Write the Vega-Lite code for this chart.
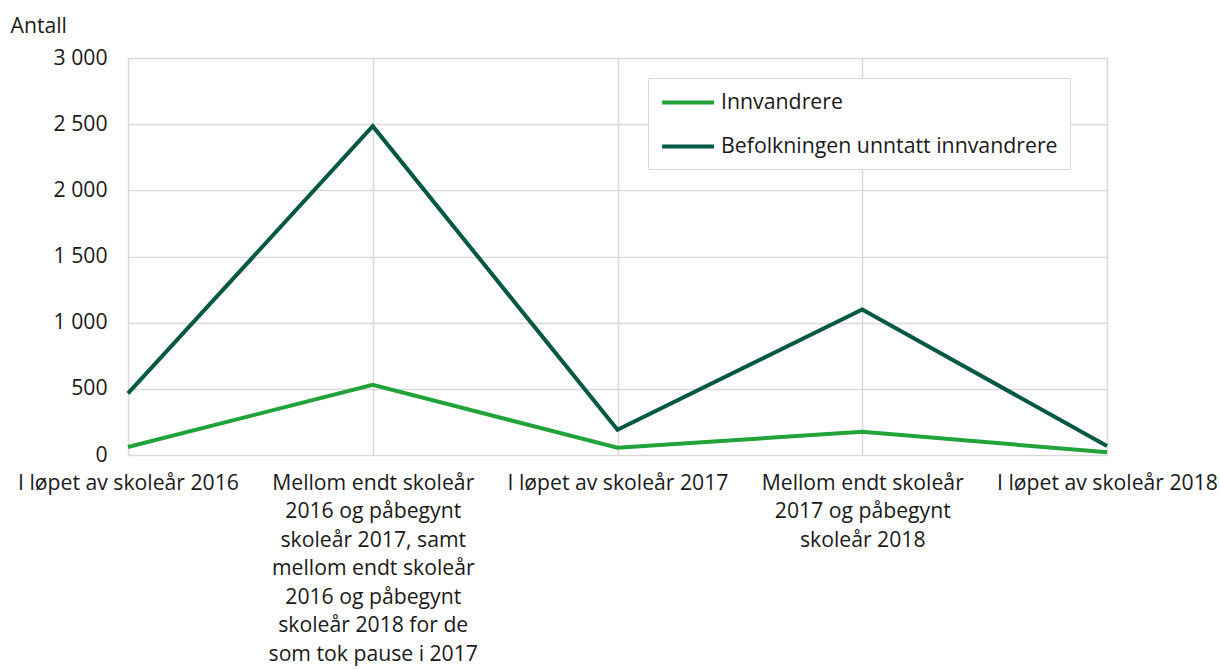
{
  "$schema": "https://vega.github.io/schema/vega-lite/v6.json",
  "width": 979,
  "height": 397,
  "autosize": {"type": "none"},
  "padding": {"left": 128, "top": 58, "right": 113, "bottom": 215},
  "background": "white",
  "config": {
    "view": {"stroke": null},
    "font": "Open Sans",
    "axis": {"labelFont": "Open Sans", "titleFont": "Open Sans", "labelColor": "#1a1a1a", "titleColor": "#1a1a1a"}
  },
  "data": {
    "values": [
      {"periode": "I løpet av skoleår 2016", "gruppe": "Innvandrere", "antall": 60},
      {"periode": "Mellom endt skoleår\n2016 og påbegynt\nskoleår 2017, samt\nmellom endt skoleår\n2016 og påbegynt\nskoleår 2018 for de\nsom tok pause i 2017", "gruppe": "Innvandrere", "antall": 530},
      {"periode": "I løpet av skoleår 2017", "gruppe": "Innvandrere", "antall": 55},
      {"periode": "Mellom endt skoleår\n2017 og påbegynt\nskoleår 2018", "gruppe": "Innvandrere", "antall": 176},
      {"periode": "I løpet av skoleår 2018", "gruppe": "Innvandrere", "antall": 20},
      {"periode": "I løpet av skoleår 2016", "gruppe": "Befolkningen unntatt innvandrere", "antall": 465},
      {"periode": "Mellom endt skoleår\n2016 og påbegynt\nskoleår 2017, samt\nmellom endt skoleår\n2016 og påbegynt\nskoleår 2018 for de\nsom tok pause i 2017", "gruppe": "Befolkningen unntatt innvandrere", "antall": 2485},
      {"periode": "I løpet av skoleår 2017", "gruppe": "Befolkningen unntatt innvandrere", "antall": 190},
      {"periode": "Mellom endt skoleår\n2017 og påbegynt\nskoleår 2018", "gruppe": "Befolkningen unntatt innvandrere", "antall": 1100},
      {"periode": "I løpet av skoleår 2018", "gruppe": "Befolkningen unntatt innvandrere", "antall": 68}
    ]
  },
  "mark": {"type": "line", "strokeWidth": 4},
  "encoding": {
    "x": {
      "field": "periode",
      "type": "nominal",
      "sort": null,
      "scale": {"type": "point", "padding": 0},
      "axis": {
        "title": null,
        "labelAngle": 0,
        "labelFontSize": 21.2,
        "labelLineHeight": 28.5,
        "labelPadding": 17,
        "labelBaseline": "top",
        "labelAlign": "center",
        "labelExpr": "split(datum.label, '\\n')",
        "labelLimit": 0,
        "ticks": false,
        "domain": false,
        "grid": true,
        "gridColor": "#d9d9d9",
        "gridWidth": 1.5,
        "labelOverlap": false,
        "labelBound": false
      }
    },
    "y": {
      "field": "antall",
      "type": "quantitative",
      "scale": {"domain": [0, 3000], "nice": false},
      "axis": {
        "title": "Antall",
        "titleAngle": 0,
        "titleAlign": "left",
        "titleBaseline": "middle",
        "titleX": -118,
        "titleY": -32,
        "titleFontSize": 21.2,
        "titleFontWeight": "normal",
        "values": [0, 500, 1000, 1500, 2000, 2500, 3000],
        "labelExpr": "replace(format(datum.value, ','), ',', ' ')",
        "labelFontSize": 21.2,
        "labelPadding": 21,
        "ticks": false,
        "domain": false,
        "gridColor": "#d9d9d9",
        "gridWidth": 1.5
      }
    },
    "color": {
      "field": "gruppe",
      "type": "nominal",
      "scale": {"domain": ["Innvandrere", "Befolkningen unntatt innvandrere"], "range": ["#22a33a", "#065744"]},
      "legend": {
        "title": null,
        "orient": "none",
        "legendX": 520,
        "legendY": 20,
        "direction": "vertical",
        "fillColor": "white",
        "strokeColor": "#d9d9d9",
        "padding": 12,
        "labelFont": "Open Sans",
        "labelFontSize": 21.3,
        "labelColor": "#1a1a1a",
        "labelLimit": 0,
        "labelOffset": 36,
        "symbolType": "M-1,0H4",
        "symbolSize": 433,
        "symbolStrokeWidth": 4,
        "rowPadding": 21
      }
    }
  }
}
